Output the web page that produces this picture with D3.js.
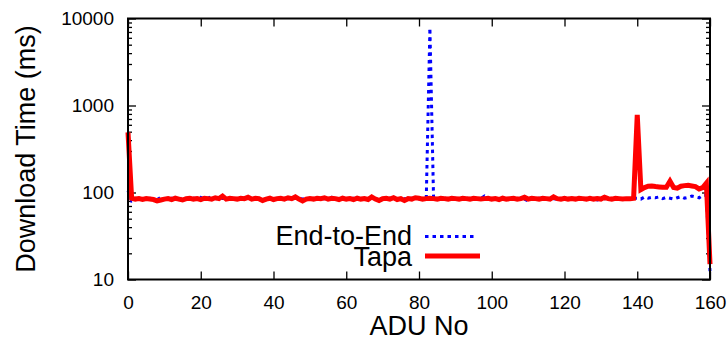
<!DOCTYPE html>
<html>
<head>
<meta charset="utf-8">
<script src="https://cdn.jsdelivr.net/npm/d3@7"></script>
<style>
  body { margin: 0; background: #fff; }
  svg { display: block; font-family: "Liberation Sans", Arial, sans-serif; }
</style>
</head>
<body>
<svg id="chart" width="727" height="340"></svg>
<script>
// ADU index 0..160
const aduNo = d3.range(0, 161);

// Tapa download time (ms)
const tapa = [
  490, 86, 84, 85, 83, 85, 84, 83, 80, 82,
  84, 85, 83, 86, 84, 82, 85, 86, 84, 85,
  83, 86, 85, 84, 87, 85, 91, 84, 86, 85,
  84, 86, 85, 88, 84, 86, 85, 81, 84, 86,
  83, 85, 86, 84, 87, 85, 89, 84, 80, 84,
  85, 84, 86, 85, 87, 84, 86, 85, 83, 86,
  84, 85, 83, 86, 84, 85, 83, 89, 84, 81,
  85, 86, 84, 87, 83, 85, 81, 85, 84, 87,
  86, 84, 85, 86, 85, 84, 86, 85, 84, 86,
  85, 84, 86, 85, 84, 86, 85, 84, 85, 86,
  84, 85, 83, 86, 84, 85, 86, 84, 85, 88,
  84, 86, 85, 84, 86, 85, 84, 89, 85, 84,
  86, 84, 85, 84, 86, 85, 84, 86, 84, 85,
  84, 88, 85, 84, 86, 85, 84, 85, 85, 86,
  780, 108, 114, 118, 119, 117, 116, 115, 115, 135,
  114, 112, 118, 120, 121, 119, 117, 110, 114, 128,
  15
];

// End-to-End download time (ms)
const endToEnd = [
  105, 80, 84, 86, 83, 85, 86, 84, 83, 88,
  85, 84, 86, 85, 83, 87, 85, 84, 86, 85,
  88, 84, 86, 90, 85, 84, 86, 85, 84, 86,
  85, 83, 86, 84, 85, 86, 84, 80, 85, 86,
  82, 85, 84, 86, 85, 84, 86, 85, 84, 86,
  85, 84, 86, 84, 85, 86, 88, 84, 85, 86,
  84, 85, 86, 84, 85, 86, 84, 85, 84, 86,
  85, 84, 86, 85, 84, 86, 85, 84, 86, 85,
  84, 85, 86, 7800, 86, 85, 84, 86, 85, 84,
  86, 85, 84, 86, 85, 84, 83, 85, 91, 85,
  82, 84, 85, 86, 84, 85, 83, 85, 86, 84,
  80, 85, 84, 86, 85, 84, 86, 85, 84, 83,
  85, 84, 86, 84, 85, 83, 86, 84, 85, 82,
  84, 85, 86, 84, 85, 83, 86, 84, 85, 86,
  86, 84, 89, 86, 88, 87, 89, 85, 88, 86,
  84, 87, 90, 86, 88, 91, 89, 87, 93, 93,
  12.5
];

const xTicks = [0, 20, 40, 60, 80, 100, 120, 140, 160];
const yTicks = [10, 100, 1000, 10000];
const yMinorTicks = [];
[10, 100, 1000].forEach(d => { for (let k = 2; k <= 9; k++) yMinorTicks.push(d * k); });

const margin = { top: 18.5, right: 17, bottom: 60.5, left: 128 };
const W = 727, H = 340;
const width = W - margin.left - margin.right;
const height = H - margin.top - margin.bottom;

const svg = d3.select("#chart");
const g = svg.append("g").attr("transform", `translate(${margin.left},${margin.top})`);

const x = d3.scaleLinear().domain([0, 160]).range([0, width]);
const y = d3.scaleLog().domain([10, 10000]).range([height, 0]);

// --- axes (gnuplot style: ticks inward, mirrored) ---
function styleAxis(sel) {
  sel.select(".domain").remove();
  sel.selectAll(".tick line").attr("stroke", "#000").attr("stroke-width", 1.3);
  sel.selectAll(".tick text").attr("font-size", 19).attr("fill", "#000")
    .attr("font-family", "'Liberation Sans', Arial, sans-serif");
}

g.append("g").attr("transform", `translate(0,${height})`)
  .call(d3.axisBottom(x).tickValues(xTicks).tickSizeInner(-8).tickSizeOuter(0).tickPadding(16))
  .call(styleAxis);
g.append("g")
  .call(d3.axisTop(x).tickValues(xTicks).tickSizeInner(-8).tickSizeOuter(0).tickFormat(""))
  .call(styleAxis);

g.append("g")
  .call(d3.axisLeft(y).tickValues(yTicks).tickSizeInner(-8).tickSizeOuter(0).tickPadding(14).tickFormat(d3.format("d")))
  .call(styleAxis);
g.append("g")
  .call(d3.axisLeft(y).tickValues(yMinorTicks).tickSizeInner(-4).tickSizeOuter(0).tickFormat(""))
  .call(styleAxis);
g.append("g").attr("transform", `translate(${width},0)`)
  .call(d3.axisRight(y).tickValues(yTicks).tickSizeInner(-8).tickSizeOuter(0).tickFormat(""))
  .call(styleAxis);
g.append("g").attr("transform", `translate(${width},0)`)
  .call(d3.axisRight(y).tickValues(yMinorTicks).tickSizeInner(-4).tickSizeOuter(0).tickFormat(""))
  .call(styleAxis);

// --- series ---
const line = d3.line().x((d, i) => x(aduNo[i])).y(d => y(d));

g.append("path")
  .datum(endToEnd)
  .attr("fill", "none")
  .attr("stroke", "#0000ff")
  .attr("stroke-width", 3)
  .attr("stroke-dasharray", "3.5,4")
  .attr("d", line);

g.append("path")
  .datum(tapa)
  .attr("fill", "none")
  .attr("stroke", "#ff0000")
  .attr("stroke-width", 5)
  .attr("stroke-linejoin", "miter")
  .attr("d", line);

// frame
g.append("rect")
  .attr("width", width).attr("height", height)
  .attr("fill", "none").attr("stroke", "#000").attr("stroke-width", 2);

// --- legend ---
const legend = [
  { name: "End-to-End", color: "#0000ff", dash: "3.5,4", w: 3, base: 245, ly: 236.5, x2: 476 },
  { name: "Tapa", color: "#ff0000", dash: null, w: 5, base: 266, ly: 256, x2: 480 }
];
legend.forEach(l => {
  svg.append("text")
    .attr("x", 412).attr("y", l.base)
    .attr("text-anchor", "end")
    .attr("font-size", 27)
    .attr("fill", "#000")
    .text(l.name);
  svg.append("line")
    .attr("x1", 425).attr("x2", l.x2)
    .attr("y1", l.ly).attr("y2", l.ly)
    .attr("stroke", l.color)
    .attr("stroke-width", l.w)
    .attr("stroke-dasharray", l.dash);
});

// --- axis titles ---
svg.append("text")
  .attr("x", margin.left + width / 2).attr("y", 335)
  .attr("text-anchor", "middle").attr("font-size", 27).attr("fill", "#000")
  .text("ADU No");

svg.append("text")
  .attr("transform", `translate(35,${margin.top + height / 2}) rotate(-90)`)
  .attr("text-anchor", "middle").attr("font-size", 27).attr("fill", "#000")
  .text("Download Time (ms)");
</script>
</body>
</html>
